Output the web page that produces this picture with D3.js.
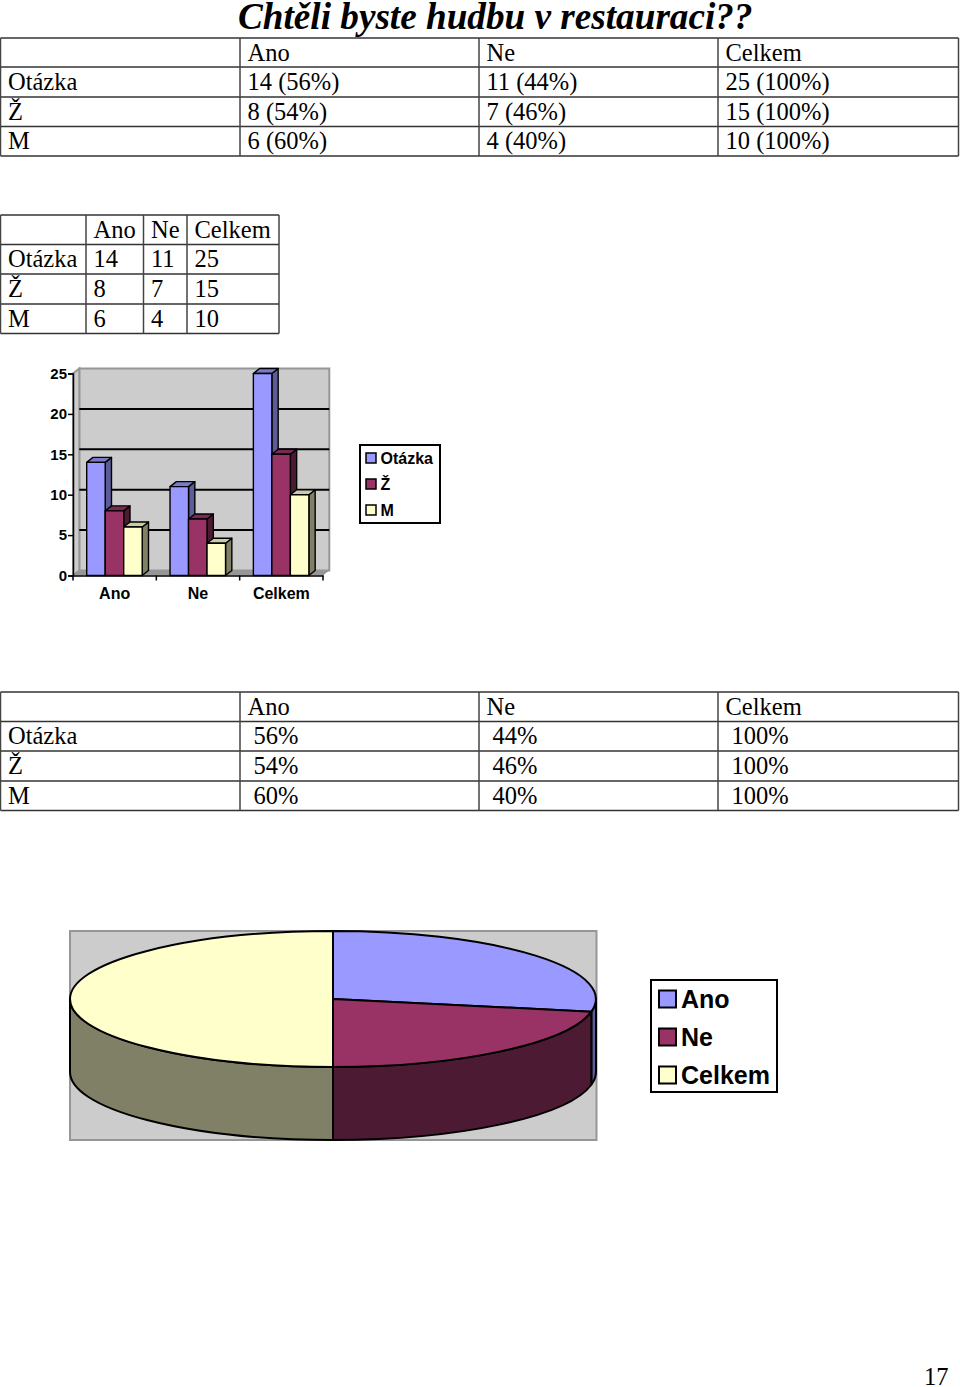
<!DOCTYPE html>
<html><head><meta charset="utf-8">
<script src="https://cdn.jsdelivr.net/npm/d3@7"></script>
<style>html,body{margin:0;padding:0;background:#fff}svg{display:block}
.t{font-family:"Liberation Serif",serif;font-size:24.5px;fill:#000}
.s{font-family:"Liberation Sans",sans-serif;font-weight:bold;fill:#000}</style></head><body>
<svg id="c" width="960" height="1387"></svg>
<script>
const titleText = "Chtěli byste hudbu v restauraci??";
const pageNumber = "17";
const headers = ["", "Ano", "Ne", "Celkem"];
const table1 = [["Otázka","14 (56%)","11 (44%)","25 (100%)"],["Ž","8 (54%)","7 (46%)","15 (100%)"],["M","6 (60%)","4 (40%)","10 (100%)"]];
const table2 = [["Otázka","14","11","25"],["Ž","8","7","15"],["M","6","4","10"]];
const table3 = [["Otázka"," 56%"," 44%"," 100%"],["Ž"," 54%"," 46%"," 100%"],["M"," 60%"," 40%"," 100%"]];
const categories = ["Ano","Ne","Celkem"];
const seriesNames = ["Otázka","Ž","M"];
const otazka = [14,11,25];
const zeny = [8,7,15];
const muzi = [6,4,10];
const barTicks = [0,5,10,15,20,25];
const front = ["#9999ff","#993366","#ffffcc"];
const side = ["#5c5c99","#4d1a33","#808066"];
const topc = ["#7a7acc","#7a2952","#ccccA3"];
const svg = d3.select("#c");

svg.append("text").attr("x",238).attr("y",29).attr("font-family","Liberation Serif").attr("font-weight","bold").attr("font-style","italic").attr("font-size",37.2).text(titleText);

function table(xs, ys, rows){
  const g = svg.append("g");
  ys.forEach(y=>g.append("line").attr("x1",xs[0]).attr("x2",xs[xs.length-1]).attr("y1",y).attr("y2",y).attr("stroke","#333").attr("stroke-width",1.5));
  xs.forEach(x=>g.append("line").attr("x1",x).attr("x2",x).attr("y1",ys[0]).attr("y2",ys[ys.length-1]).attr("stroke","#444").attr("stroke-width",1.5));
  [headers,...rows].forEach((r,i)=>r.forEach((c,j)=>{
    const lead = c.startsWith(" ")?6:0;
    g.append("text").attr("class","t").attr("x",xs[j]+7.5+lead).attr("y",Math.round(ys[i]+22.9)).text(c.trim());
  }));
}
table([0.5,240,479,718,958.5],[38,67,97,126.5,156],table1);
table([0.5,86,143.5,187,279],[215,244.5,274,304,333.5],table2);
table([0.5,240,479,718,958.5],[692,721.5,751,781,810.5],table3);

// 3D bar chart
const dx=6.3, dy=-5;
const x0 = d3.scaleBand().domain(categories).range([73,323]);
const y = d3.scaleLinear().domain([0,25]).range([575.5,373.5]);
const g = svg.append("g");
const R = x0.range()[1];
g.append("path").attr("d",`M${73+dx} ${y(0)+dy}L${73+dx} ${y(25)+dy}L${R+dx} ${y(25)+dy}L${R+dx} ${y(0)+dy}Z`).attr("fill","#cccccc").attr("stroke","#969696").attr("stroke-width",2);
g.append("path").attr("d",`M73 ${y(0)}L73 ${y(25)}L${73+dx} ${y(25)+dy}L${73+dx} ${y(0)+dy}Z`).attr("fill","#cccccc").attr("stroke","#969696").attr("stroke-width",2);
g.append("path").attr("d",`M73 ${y(0)}L${R} ${y(0)}L${R+dx} ${y(0)+dy}L${73+dx} ${y(0)+dy}Z`).attr("fill","#969696");
barTicks.slice(1,-1).forEach(t=>g.append("line").attr("x1",73+dx).attr("x2",R+dx).attr("y1",y(t)+dy).attr("y2",y(t)+dy).attr("stroke","#000").attr("stroke-width",2));
const series=[otazka,zeny,muzi];
const x1 = d3.scaleBand().domain([0,1,2]).range([0,55.5]);
categories.forEach((c,ci)=>series.forEach((s,si)=>{
  const X = x0(c)+13.7+x1(si), w=x1.bandwidth(), Y=y(s[ci]), B=y(0);
  const bg=g.append("g").attr("stroke","#000").attr("stroke-width",1.4).attr("stroke-linejoin","round");
  bg.append("path").attr("d",`M${X+w} ${B}L${X+w} ${Y}L${X+w+dx} ${Y+dy}L${X+w+dx} ${B+dy}Z`).attr("fill",side[si]);
  bg.append("path").attr("d",`M${X} ${Y}L${X+dx} ${Y+dy}L${X+w+dx} ${Y+dy}L${X+w} ${Y}Z`).attr("fill",topc[si]);
  bg.append("rect").attr("x",X).attr("y",Y).attr("width",w).attr("height",B-Y).attr("fill",front[si]);
}));
// axes
const ax = svg.append("g").attr("transform","translate(73,0)").call(d3.axisLeft(y).tickValues(barTicks).tickSize(5).tickPadding(1));
ax.selectAll("text").attr("class","s").attr("font-size",15).attr("font-family","Liberation Sans").attr("font-weight","bold").attr("fill","#000");
ax.selectAll("line,path").attr("stroke","#000").attr("stroke-width",1.5);
const bx = svg.append("g").attr("transform","translate(0,575.5)").call(d3.axisBottom(x0).tickSize(0).tickPadding(12));
bx.selectAll("text").attr("font-size",16).attr("font-family","Liberation Sans").attr("font-weight","bold").attr("fill","#000");
bx.selectAll("line,path").attr("stroke","#000").attr("stroke-width",1.5);
x0.domain().concat(["end"]).forEach((d,i)=>svg.append("line").attr("x1",73+i*x0.step()).attr("x2",73+i*x0.step()).attr("y1",575.5).attr("y2",580.5).attr("stroke","#000").attr("stroke-width",1.5));
// legend
function legend(x,y0,w,h,items,rowY,sw,tx,fs,lw){
  const l=svg.append("g");
  l.append("rect").attr("x",x).attr("y",y0).attr("width",w).attr("height",h).attr("fill","#fff").attr("stroke","#000").attr("stroke-width",2);
  items.forEach((t,i)=>{
    l.append("rect").attr("x",x+sw[0]).attr("y",rowY[i]-sw[1]/2).attr("width",sw[1]).attr("height",sw[1]).attr("fill",front[i]).attr("stroke","#000").attr("stroke-width",lw);
    l.append("text").attr("x",x+tx).attr("y",rowY[i]+fs*0.36).attr("font-family","Liberation Sans").attr("font-weight","bold").attr("font-size",fs).text(t);
  });
}
legend(360,445,80,78,seriesNames,[458,484,510],[6,10],20.5,16,1.5);

// pie
const pieVals = [otazka[0],otazka[1],otazka[2]];
const pieColors = ["#9999ff","#993366","#ffffcc"];
const pieSide = ["#5c5c99","#4d1a33","#808066"];
const cx=333, cy=999, rx=263, ry=68, depth=73;
svg.append("rect").attr("x",70).attr("y",931).attr("width",526.5).attr("height",209).attr("fill","#cccccc").attr("stroke","#969696").attr("stroke-width",2);
const arcs = d3.pie().sort(null)(pieVals);
const P = a=>[cx+rx*Math.sin(a), cy-ry*Math.cos(a)];
const pg = svg.append("g").attr("stroke","#000").attr("stroke-width",2).attr("stroke-linejoin","round");
arcs.forEach((a,i)=>{
  const s=Math.max(a.startAngle,Math.PI/2), e=Math.min(a.endAngle,Math.PI*1.5);
  if(e<=s) return;
  const p0=P(s),p1=P(e);
  pg.append("path").attr("d",`M${p0[0]} ${p0[1]}A${rx} ${ry} 0 0 1 ${p1[0]} ${p1[1]}L${p1[0]} ${p1[1]+depth}A${rx} ${ry} 0 0 0 ${p0[0]} ${p0[1]+depth}Z`).attr("fill",pieSide[i]);
});
const unit = d3.arc().innerRadius(0).outerRadius(1);
arcs.forEach((a,i)=>{
  pg.append("path").attr("d",unit(a)).attr("transform",`translate(${cx},${cy}) scale(${rx},${ry})`).attr("vector-effect","non-scaling-stroke").attr("fill",pieColors[i]);
});
legend(651,980,126,112,categories,[999,1037,1075],[8,17],30,25,2);
svg.append("text").attr("x",924).attr("y",1385).attr("class","t").text(pageNumber);
</script></body></html>
